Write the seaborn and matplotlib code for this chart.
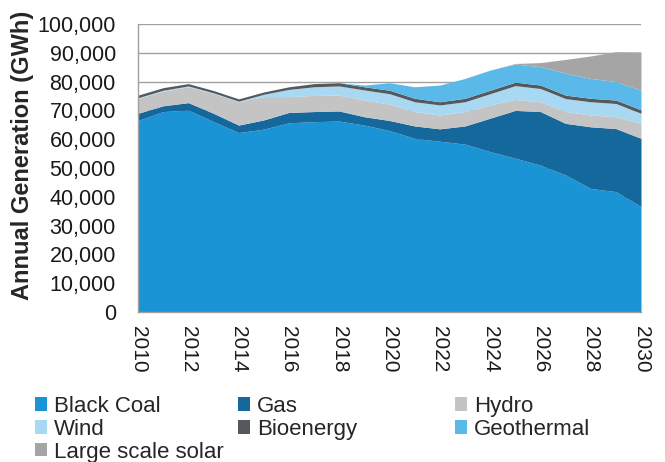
import matplotlib
matplotlib.use("Agg")
import matplotlib.pyplot as plt
import seaborn as sns
import numpy as np
from matplotlib.patches import Patch
from matplotlib.ticker import FuncFormatter, MultipleLocator

years = list(range(2010, 2031))
# Annual generation (GWh) by source
black_coal = [66500, 69600, 70100, 66100, 62300, 63500, 65700, 66100, 66300, 64900, 63000,
              60300, 59300, 58300, 55700, 53400, 51000, 47600, 42900, 41800, 36600]
gas        = [2500, 2000, 2600, 2900, 2600, 3200, 3600, 3500, 3500, 2900, 3500,
              4300, 4300, 6300, 11600, 16600, 18600, 17900, 21400, 21900, 23700]
hydro      = [5200, 5100, 5500, 6900, 8100, 8100, 5500, 5600, 5500, 5800, 5700,
              5000, 4800, 5000, 4600, 3800, 3400, 4100, 4100, 4100, 5200]
wind       = [200, 300, 300, 200, 200, 800, 2500, 3000, 3200, 3500, 3600,
              3400, 3500, 3400, 3900, 4800, 4600, 4500, 4600, 4600, 3500]
bioenergy  = [900, 900, 800, 800, 800, 800, 900, 1100, 1100, 1100, 1200,
              1200, 1100, 1200, 1200, 1200, 1200, 1200, 1200, 1200, 1200]
geothermal = [0, 0, 0, 0, 0, 0, 0, 0, 0, 600, 2600,
              4000, 5800, 6900, 7000, 6300, 6400, 7600, 6900, 6400, 6800]
solar      = [0, 0, 0, 0, 0, 0, 0, 0, 0, 0, 0,
              0, 0, 0, 0, 200, 1400, 4800, 7800, 10400, 13300]

names = ["Black Coal", "Gas", "Hydro", "Wind", "Bioenergy", "Geothermal", "Large scale solar"]
colors = ["#1a94d4", "#14689c", "#c4c4c4", "#a8d8f2", "#55595e", "#5bb9ea", "#a5a5a5"]

sns.set_style("white")
plt.rcParams['font.family'] = ['Liberation Sans', 'DejaVu Sans']

fig = plt.figure(figsize=(6.65, 4.62), dpi=100)
ax = fig.add_axes([138/665, 1 - 312/462, (641-138)/665, (312-24)/462])

ax.stackplot(years, black_coal, gas, hydro, wind, bioenergy, geothermal, solar,
             colors=colors, linewidth=0, zorder=2)

ax.set_xlim(2010, 2030)
ax.set_ylim(0, 100000)
ax.yaxis.set_major_locator(MultipleLocator(10000))
ax.xaxis.set_major_locator(MultipleLocator(2))
ax.yaxis.set_major_formatter(FuncFormatter(lambda v, p: f"{int(v):,}"))
ax.grid(axis="y", color="#a0a0a0", linewidth=1.0, zorder=0)
ax.set_axisbelow(True)
for s in ["top", "right"]:
    ax.spines[s].set_visible(False)
for s in ["left", "bottom"]:
    ax.spines[s].set_color("#a0a0a0")
    ax.spines[s].set_linewidth(1.0)
ax.tick_params(axis="y", length=0, labelsize=15.5, colors="#1a1a1a", pad=16)
ax.tick_params(axis="x", length=0, labelsize=15, colors="#1a1a1a", pad=10)
for lab in ax.get_xticklabels():
    lab.set_rotation(-90)
    lab.set_va("top")
    lab.set_ha("center")
ax.set_ylabel("Annual Generation (GWh)", fontsize=17, fontweight="bold")
ax.yaxis.set_label_coords((34 - 138) / 503, 0.545)

handles = {n: Patch(facecolor=c, edgecolor="none") for n, c in zip(names, colors)}
cols = [(["Black Coal", "Wind", "Large scale solar"], 35),
        (["Gas", "Bioenergy"], 238),
        (["Hydro", "Geothermal"], 455)]
for labels, xpx in cols:
    fig.legend([handles[l] for l in labels], labels, loc="upper left",
               bbox_to_anchor=(xpx/665, 1 - 396/462), frameon=False, fontsize=16,
               handlelength=0.55, handleheight=0.55, handletextpad=0.3,
               labelspacing=0.08, borderpad=0, borderaxespad=0)

fig.savefig("out.png", dpi=100)
